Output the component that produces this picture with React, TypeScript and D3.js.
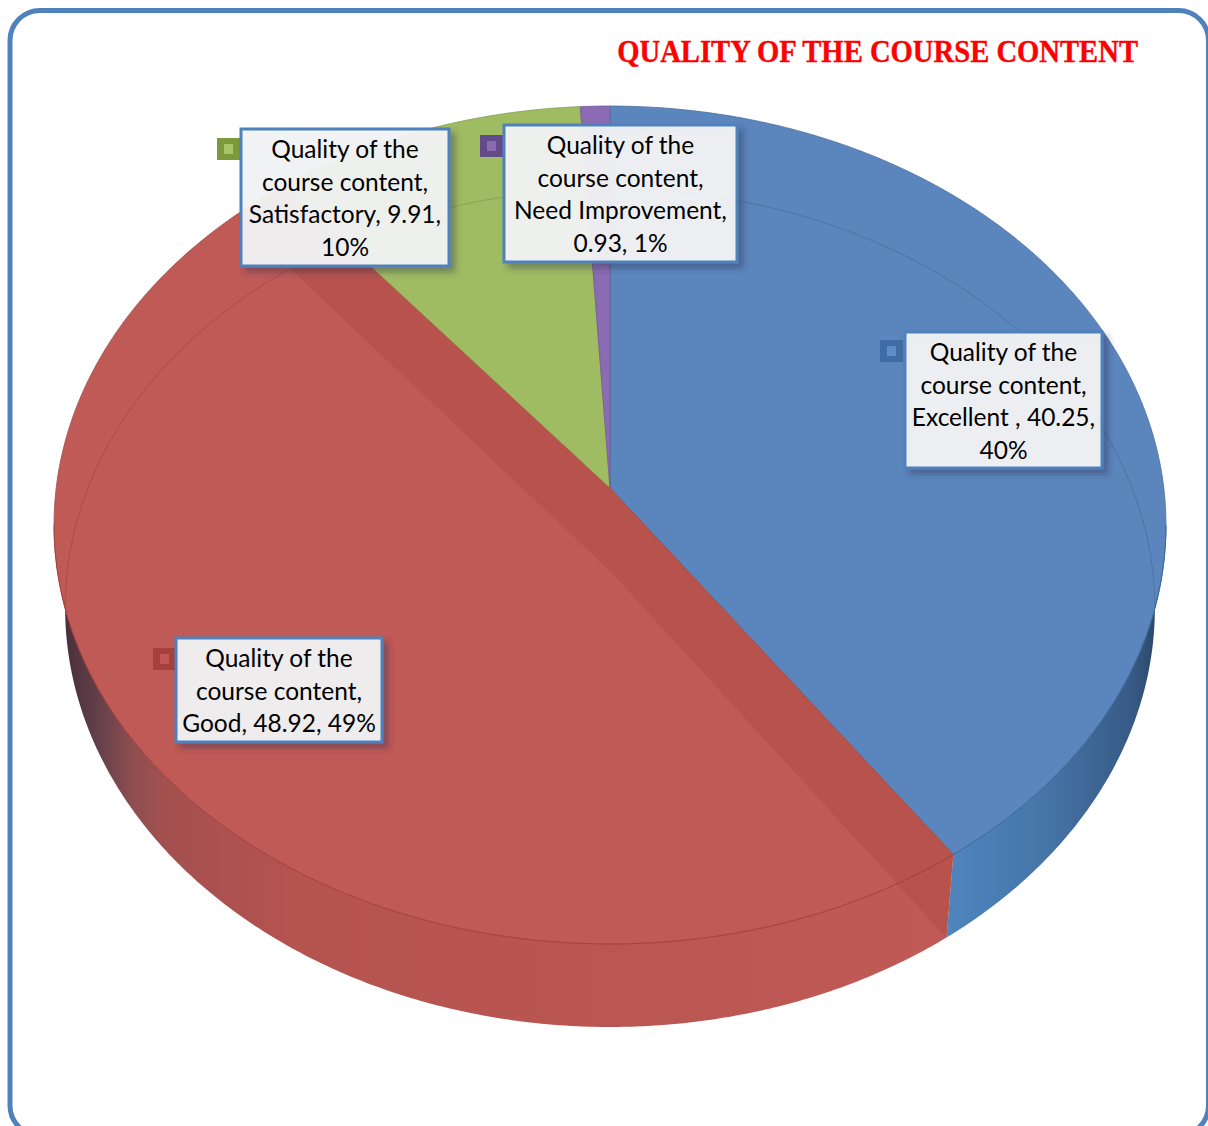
import React, { useMemo } from "react";
import * as d3 from "d3";

const titleText = "QUALITY OF THE COURSE CONTENT";
const categories = ["Excellent", "Good", "Satisfactory", "Need Improvement"];
const seriesValues = [40.25, 48.92, 9.91, 0.93];
const faceColors = ["#5b86bd", "#c05a56", "#a0bc62", "#8a6bb4"];
const markerDark = ["#3f6ca5", "#a5403d", "#7b9a3c", "#634a8a"];
const markerLight = ["#5f8dc6", "#c45753", "#a8c56a", "#8a6bb0"];
const labelLines = [
  ["Quality of the", "course content,", "Excellent , 40.25,", "40%"],
  ["Quality of the", "course content,", "Good, 48.92, 49%"],
  ["Quality of the", "course content,", "Satisfactory, 9.91,", "10%"],
  ["Quality of the", "course content,", "Need Improvement,", "0.93, 1%"],
];

// label layout: box x, y, w, h, marker x, y
const labelBoxes = [
  [905, 332, 197, 136, 880, 340],
  [176, 638, 206, 104, 153, 648],
  [241, 129, 208, 137, 217, 138],
  [504, 125, 233, 137, 480, 135],
];

const W = 1208;
const H = 1126;
const cx = 610;
const apexY = 488;
const depth = 83;
const persp = -0.0883;
const ax = 553.8;
const by = 415.7;
const lowerScale = 0.98;
const wideAngle = Math.acos(persp);

function project(theta: number, lower: boolean): [number, number] {
  const u = Math.sin(theta);
  const v = -Math.cos(theta);
  const w = 1 + persp * v;
  const s = lower ? lowerScale : 1;
  return [cx + (s * ax * u) / w, apexY + (lower ? depth : 0) + (by * v) / w];
}

const line = d3.line<[number, number]>();
const arcPts = (a0: number, a1: number, lower: boolean) => {
  const n = Math.max(4, Math.ceil(Math.abs(a1 - a0) / 0.01));
  return d3.range(n + 1).map((i) => project(a0 + ((a1 - a0) * i) / n, lower));
};
const apex = (lower: boolean): [number, number] => [cx, apexY + (lower ? depth : 0)];

export default function App() {
  const slices = useMemo(
    () => d3.pie<number>().sort(null).startAngle(0).endAngle(2 * Math.PI)(seriesValues),
    []
  );
  const blue = slices[0];
  const red = slices[1];

  const wallPath = (a0: number, a1: number) =>
    line([...arcPts(a0, a1, false), ...arcPts(a1, a0, true)]) + "Z";
  const facePath = (a0: number, a1: number) =>
    line([apex(false), ...arcPts(a0, a1, false)]) + "Z";
  const band = (theta: number) =>
    line([apex(false), project(theta, false), project(theta, true), apex(true)]) + "Z";

  const redTail = 2 * Math.PI - wideAngle;

  return (
    <svg
      width={W}
      height={H}
      viewBox={`0 0 ${W} ${H}`}
      style={{ position: "absolute", left: 0, top: 0, background: "#fff" }}
    >
      <defs>
        <linearGradient id="wallRed" gradientUnits="userSpaceOnUse" x1={54} x2={950} y1={0} y2={0}>
          <stop offset="0" stopColor="#3f2a35" />
          <stop offset="0.051" stopColor="#66404a" />
          <stop offset="0.088" stopColor="#8f4e50" />
          <stop offset="0.126" stopColor="#a4504f" />
          <stop offset="0.27" stopColor="#b5534f" />
          <stop offset="1" stopColor="#c05a56" />
        </linearGradient>
        <linearGradient id="wallBlue" gradientUnits="userSpaceOnUse" x1={945} x2={1166} y1={0} y2={0}>
          <stop offset="0" stopColor="#4f85bf" />
          <stop offset="0.45" stopColor="#4675a8" />
          <stop offset="0.85" stopColor="#375a85" />
          <stop offset="1" stopColor="#24405f" />
        </linearGradient>
        <filter id="boxShadow" x="-10%" y="-10%" width="125%" height="125%">
          <feDropShadow dx={5} dy={5} stdDeviation={3} floodColor="#33334d" floodOpacity={0.42} />
        </filter>
      </defs>

      <rect x={10} y={10.5} width={1198.5} height={1125} rx={30} ry={30} fill="#fff" stroke="#4f81bd" strokeWidth={5} />

      <text
        transform="translate(1138,62) scale(0.912,1)"
        textAnchor="end"
        fontFamily="'Liberation Serif', serif"
        fontWeight={700}
        fontSize={31.4}
        fill="#ff0000"
        stroke="#ff0000"
        strokeWidth={0.4}
      >
        {titleText}
      </text>

      {/* side walls */}
      <path d={wallPath(wideAngle, blue.endAngle)} fill="url(#wallBlue)" />
      <path d={wallPath(red.startAngle, redTail)} fill="url(#wallRed)" />

      {/* top faces */}
      {slices.map((s, i) => (
        <path
          key={categories[i]}
          d={facePath(s.startAngle, s.endAngle)}
          fill={faceColors[i]}
          stroke={d3.color(faceColors[i])!.darker(0.5).formatHex()}
          strokeWidth={0.8}
        />
      ))}

      {/* cut faces of the large slice, seen through the surface */}
      <path d={band(red.startAngle)} fill="#a5463a" fillOpacity={0.36} />
      <path d={band(red.endAngle)} fill="#a5463a" fillOpacity={0.36} />

      {/* rim lines */}
      <path
        d={line(arcPts(wideAngle, blue.endAngle, false)) ?? ""}
        fill="none"
        stroke="#3c6a9f"
        strokeWidth={1}
      />
      <path
        d={line(arcPts(red.startAngle, redTail, false)) ?? ""}
        fill="none"
        stroke="#a03c3a"
        strokeOpacity={0.75}
        strokeWidth={1}
      />
      {slices.map((s, i) => {
        const a0 = Math.max(s.startAngle, i === 1 ? redTail : 0);
        const a1 = i === 0 ? Math.min(s.endAngle, wideAngle) : s.endAngle;
        if (a1 <= a0) return null;
        return (
          <path
            key={"inner" + categories[i]}
            d={line(arcPts(a0, a1, true)) ?? ""}
            fill="none"
            stroke={d3.color(faceColors[i])!.darker(0.7).formatHex()}
            strokeOpacity={0.7}
            strokeWidth={0.9}
          />
        );
      })}

      {/* data labels */}
      {slices.map((_, i) => {
        const [bx, byy, bw, bh, mx, my] = labelBoxes[i];
        return (
          <g key={"label" + categories[i]}>
            <rect x={mx} y={my} width={23} height={22} fill={markerDark[i]} />
            <rect x={mx + 7} y={my + 6} width={9} height={10} fill={markerLight[i]} />
            <rect
              x={bx}
              y={byy}
              width={bw}
              height={bh}
              fill="#f3f4f5"
              fillOpacity={0.94}
              stroke="#4f81bd"
              strokeWidth={3}
              filter="url(#boxShadow)"
            />
            {labelLines[i].map((t, k) => (
              <text
                key={k}
                x={bx + bw / 2}
                y={byy + 29 + k * 32.5}
                textAnchor="middle"
                fontFamily="Lato, 'Open Sans', sans-serif"
                fontSize={24.5}
                fill="#000"
              >
                {t}
              </text>
            ))}
          </g>
        );
      })}
    </svg>
  );
}
